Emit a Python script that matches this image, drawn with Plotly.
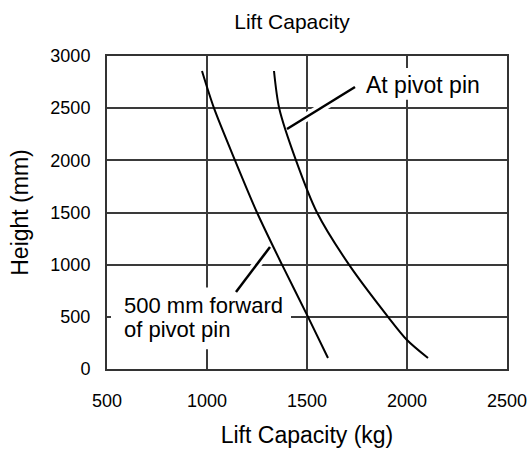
import plotly.graph_objects as go

# Lift capacity curves (kg vs lift height in mm)
fwd_kg = [975, 1035, 1140, 1250, 1375, 1505, 1605]
fwd_mm = [2856, 2500, 2000, 1500, 1000, 500, 105]

pivot_kg = [1335, 1361, 1445, 1550, 1710, 1905, 2000, 2105]
pivot_mm = [2856, 2500, 2000, 1500, 1000, 500, 278, 105]

x_ticks = [500, 1000, 1500, 2000, 2500]
y_ticks = [0, 500, 1000, 1500, 2000, 2500, 3000]

# Leader lines: (curve point, label point)
pivot_leader_kg = [1400, 1740]
pivot_leader_mm = [2300, 2703]
fwd_leader_kg = [1315, 1145]
fwd_leader_mm = [1169, 738]

FONT = "Liberation Sans, Arial, sans-serif"

fig = go.Figure()

# white halos under the leader lines so they break the grid
for lx, ly in [(pivot_leader_kg, pivot_leader_mm), (fwd_leader_kg, fwd_leader_mm)]:
    fig.add_trace(go.Scatter(x=lx, y=ly, mode="lines",
                             line=dict(color="white", width=9),
                             hoverinfo="skip", showlegend=False))

fig.add_trace(go.Scatter(x=fwd_kg, y=fwd_mm, mode="lines", name="500 mm forward of pivot pin",
                         line=dict(color="black", width=2, shape="spline", smoothing=0.8),
                         showlegend=False))
fig.add_trace(go.Scatter(x=pivot_kg, y=pivot_mm, mode="lines", name="At pivot pin",
                         line=dict(color="black", width=2, shape="spline", smoothing=0.8),
                         showlegend=False))

for lx, ly in [(pivot_leader_kg, pivot_leader_mm), (fwd_leader_kg, fwd_leader_mm)]:
    fig.add_trace(go.Scatter(x=lx, y=ly, mode="lines",
                             line=dict(color="black", width=2.5),
                             hoverinfo="skip", showlegend=False))

# white panels behind the labels, masking the grid
fig.add_shape(type="rect", xref="x", yref="y", x0=1740, x1=2420, y0=2580, y1=2885,
              fillcolor="white", line=dict(width=0), layer="between")
fig.add_shape(type="rect", xref="x", yref="y", x0=520, x1=1420, y0=190, y1=782,
              fillcolor="white", line=dict(width=0), layer="between")

fig.add_annotation(x=1785, y=2722, xref="x", yref="y", text="At pivot pin",
                   showarrow=False, xanchor="left", yanchor="middle",
                   font=dict(family=FONT, size=23, color="black"))
for txt, ypos in [("500 mm forward", 613), ("of pivot pin", 374)]:
    fig.add_annotation(x=575, y=ypos, xref="x", yref="y", text=txt,
                       showarrow=False, xanchor="left", yanchor="middle", align="left",
                       font=dict(family=FONT, size=22, color="black"))

axis_common = dict(
    showgrid=True, gridcolor="#3a3a3a", gridwidth=1.5,
    showline=True, linecolor="#333333", linewidth=2, mirror=True,
    zeroline=False, ticks="", automargin=False,
    tickfont=dict(family=FONT, size=18, color="black"),
    title_font=dict(family=FONT, size=23, color="black"),
)

fig.update_xaxes(range=[500, 2500], tickvals=x_ticks, ticktext=[str(v) for v in x_ticks],
                 title_text="Lift Capacity (kg)", ticklabelstandoff=14, title_standoff=17,
                 **axis_common)
fig.update_yaxes(range=[0, 3000], tickvals=y_ticks, ticktext=[str(v) for v in y_ticks],
                 title_text="Height (mm)", ticklabelstandoff=11, title_standoff=15,
                 **axis_common)

fig.update_layout(
    width=529, height=449,
    margin=dict(l=107, r=22, t=56, b=80),
    paper_bgcolor="white", plot_bgcolor="white",
    title=dict(text="Lift Capacity", x=0.552, xanchor="center", y=0.951, yanchor="middle",
               font=dict(family=FONT, size=21, color="black")),
    showlegend=False,
)

fig.write_html("out.html")
